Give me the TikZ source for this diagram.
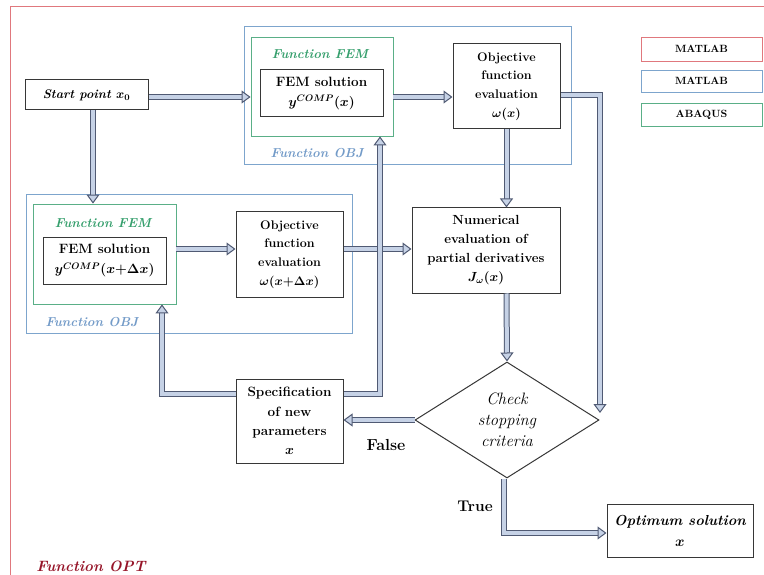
\RequirePackage{fix-cm}
\documentclass[tikz,border=0pt]{standalone}
\usepackage{fontspec}
\usepackage{bm}
\usetikzlibrary{arrows.meta,shapes.geometric,calc}
\definecolor{redframe}{RGB}{224,120,125}
\definecolor{objblue}{RGB}{125,165,205}
\definecolor{femgreen}{RGB}{90,175,135}
\definecolor{txtgreen}{RGB}{55,160,110}
\definecolor{txtblue}{RGB}{115,155,200}
\definecolor{optred}{RGB}{150,20,40}
\definecolor{adark}{RGB}{80,90,115}
\definecolor{alight}{RGB}{198,210,230}
\definecolor{boxline}{RGB}{55,55,55}
\begin{document}
\begin{tikzpicture}[x=1pt,y=-1pt,
  box/.style={draw=boxline, line width=1pt, fill=white, align=center, inner sep=0pt,
    font=\fontsize{12.5}{19}\selectfont\bfseries},
  frame/.style={draw, line width=0.9pt, inner sep=0pt},
  legend/.style={draw, line width=0.9pt, inner sep=0pt, minimum width=121, font=\fontsize{10.5}{11}\selectfont\bfseries},
  flabel/.style={font=\fontsize{13}{15}\selectfont\bfseries\itshape},
  flow/.style={draw=adark, line width=1pt, double=alight, double distance=4pt, line join=miter,
    -{Triangle[open, fill=alight, length=9pt, width=13pt]}},
  lbl/.style={font=\fontsize{16}{18}\selectfont\bfseries}
]
\useasboundingbox (0,0) rectangle (764,575);
\clip (0,0) rectangle (764,575);
\draw[redframe, line width=1pt] (10,620) -- (10,7) -- (800,7);

% containers
\node[frame, draw=objblue, minimum width=327, minimum height=138] (objT) at (407.5,95) {};
\node[frame, draw=femgreen, fill=white, minimum width=142, minimum height=99] (femT) at (322,86.5) {};
\node[frame, draw=objblue, minimum width=326, minimum height=139] (objB) at (189,263.5) {};
\node[frame, draw=femgreen, fill=white, minimum width=143, minimum height=100] (femB) at (104.5,254) {};

\node[flabel, text=txtgreen] (femTl) at (320,54) {Function FEM};
\node[flabel, text=txtblue] (objTl) at (317,153) {Function OBJ};
\node[flabel, text=txtgreen] (femBl) at (103,223) {Function FEM};
\node[flabel, text=txtblue, anchor=west] (objBl) at (42,322) {Function OBJ};
\node[flabel, text=optred, font=\fontsize{15}{17}\selectfont\bfseries\itshape] (optl) at (91,566) {Function OPT};

% legend
\node[legend, draw=redframe, minimum height=24] (lg1) at (701.5,49) {MATLAB};
\node[legend, draw=objblue, minimum height=22] (lg2) at (701.5,81) {MATLAB};
\node[legend, draw=femgreen, minimum height=23] (lg3) at (701.5,114.5) {ABAQUS};

% boxes
\node[box, minimum width=123, minimum height=30, font=\fontsize{12.5}{15}\selectfont\bfseries\itshape] (start) at (86.5,95) {Start point $\bm{x_0}$};
\node[box, minimum width=123, minimum height=47, font=\fontsize{13.5}{20}\selectfont\bfseries] (solT) at (321.5,93.5) {FEM solution\\$\bm{y^{COMP}(x)}$};
\node[box, minimum width=107, minimum height=85, font=\fontsize{12.5}{18.8}\selectfont\bfseries] (evalT) at (506.5,86.5) {Objective\\function\\evaluation\\$\bm{\omega(x)}$};
\node[box, minimum width=123, minimum height=46, font=\fontsize{13.5}{20}\selectfont\bfseries] (solB) at (104.5,261) {FEM solution\\$\bm{y^{COMP}(x{+}\Delta x)}$};
\node[box, minimum width=107, minimum height=85, font=\fontsize{12.5}{18.8}\selectfont\bfseries] (evalB) at (289.5,254.5) {Objective\\function\\evaluation\\$\bm{\omega(x{+}\Delta x)}$};
\node[box, minimum width=148, minimum height=85, font=\fontsize{13.2}{19}\selectfont\bfseries] (num) at (486,250.5) {Numerical\\evaluation of\\partial derivatives\\$\bm{J_\omega(x)}$};
\node[box, diamond, minimum width=184, minimum height=116, font=\fontsize{16.5}{21}\selectfont\itshape] (dia) at (507,420) {Check\\stopping\\criteria};
\node[box, minimum width=107, minimum height=84, font=\fontsize{13.5}{19.3}\selectfont\bfseries] (spec) at (289.5,421) {Specification\\of new\\parameters\\$\bm{x}$};
\node[box, minimum width=146, minimum height=53, font=\fontsize{14.5}{21}\selectfont\bfseries\itshape] (opt) at (680,530.5) {Optimum solution\\$\bm{x}$};

\node[lbl] (false) at (386,445) {False};
\node[lbl, font=\fontsize{15.5}{18}\selectfont\bfseries] (true) at (475,506) {True};

% helper coordinates
\coordinate (rowT) at (0,97);
\coordinate (rowB) at (0,249);
\coordinate (rowS) at (0,394);
\coordinate (colS) at (93,0);
\coordinate (colR) at (600,0);
\coordinate (colL) at (162,0);
\coordinate (colM) at (380,0);
\coordinate (colD) at (504,0);
\coordinate (rowO) at (0,533);

% connectors
\draw[flow] (start.east |- rowT) -- (femT.west |- rowT);
\draw[flow] (femT.east |- rowT) -- (evalT.west |- rowT);
\draw[flow] (evalT.east |- 0,95) -- (colR |- 0,95) -- ([yshift=7pt]colR |- dia.east);
\draw[flow] (evalT.south) -- (evalT.south |- num.north);
\draw[flow] (evalT.south |- num.south) -- (dia.north);
\draw[flow] (colS |- start.south) -- (colS |- femB.north);
\draw[flow] (femB.east |- rowB) -- (evalB.west |- rowB);
\draw[flow] (evalB.east |- rowB) -- (num.west |- rowB);
\draw[flow] (spec.west |- rowS) -- (colL |- rowS) -- (colL |- femB.south);
\draw[flow] (spec.east |- rowS) -- (colM |- rowS) -- (colM |- femT.south);
\draw[flow] (dia.west) -- (spec.east |- dia.west);
\draw[flow] (colD |- dia.south) -- (colD |- rowO) -- (opt.west |- rowO);
\end{tikzpicture}
\end{document}
